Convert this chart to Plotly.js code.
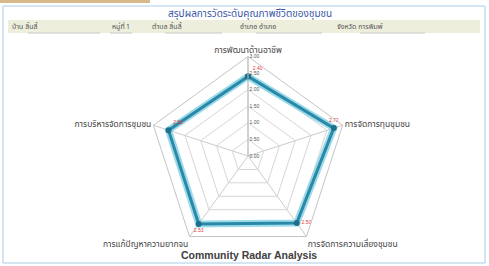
<!DOCTYPE html>
<html>
<head>
<meta charset="utf-8">
<script src="https://cdn.plot.ly/plotly-3.0.1.min.js"></script>
<style>html,body{margin:0;padding:0;background:#fff;}#chart{width:489px;height:266px;}</style>
</head>
<body>
<div id="chart"></div>
<script>
// ---- data ----
const categories = ["การพัฒนาด้านอาชีพ", "การจัดการทุนชุมชน", "การจัดการความเสี่ยงชุมชน", "การแก้ปัญหาความยากจน", "การบริหารจัดการชุมชน"];
const scores = [2.40, 2.72, 2.50, 2.53, 2.52];
const headerTitle = "สรุปผลการวัดระดับคุณภาพชีวิตของชุมชน";
const headerFields = ["บ้าน ลิ้นลี้", "หมู่ที่", "1", "ตำบล ลิ้นลี้", "อำเภอ อำเภอ", "จังหวัด การพิมพ์"];
const chartTitle = "Community Radar Analysis";
const radialTicks = [0, 0.5, 1, 1.5, 2, 2.5, 3];

const W = 489, H = 266;
const px = x => x / W, py = y => 1 - y / H;
const thaiFont = "Noto Sans Thai, Noto Sans, DejaVu Sans, sans-serif";

const thetaClosed = categories.concat([categories[0]]);
const rClosed = scores.concat([scores[0]]);
const labels = scores.map(v => v.toFixed(2)).concat([""]);

const traces = [
  { type: "scatterpolar", r: rClosed, theta: thetaClosed, mode: "lines",
    line: { color: "rgba(130,210,228,0.8)", width: 7 }, hoverinfo: "skip", showlegend: false },
  { type: "scatterpolar", r: rClosed, theta: thetaClosed, mode: "lines+markers+text",
    line: { color: "#2a88a8", width: 3 },
    marker: { color: "#1f6f8c", size: 6 },
    text: labels,
    textposition: ["top right", "top center", "middle right", "bottom center", "top right", "top center"],
    textfont: { color: "#e23a3a", size: 5, family: "Arial" },
    showlegend: false }
];

const fieldX = [10, 110, 124, 150, 238, 335];
const underlines = [[28, 100], [110, 132], [165, 222], [256, 322], [360, 425]];

const shapes = [
  { type: "rect", xref: "paper", yref: "paper", x0: px(0), x1: px(150), y0: py(0), y1: py(3),
    fillcolor: "#d8b98c", line: { width: 0 } },
  { type: "rect", xref: "paper", yref: "paper", x0: px(3), x1: px(485), y0: py(6), y1: py(263),
    fillcolor: "rgba(0,0,0,0)", line: { color: "#a9cde6", width: 1 } },
  { type: "rect", xref: "paper", yref: "paper", x0: px(8), x1: px(480), y0: py(20), y1: py(33),
    fillcolor: "#eeeedd", line: { width: 0 } }
].concat(underlines.map(u => ({ type: "line", xref: "paper", yref: "paper",
  x0: px(u[0]), x1: px(u[1]), y0: py(33), y1: py(33), line: { color: "#c8c8c8", width: 1 } })));

const annotations = [
  { text: headerTitle, xref: "paper", yref: "paper", x: px(250), y: py(14), showarrow: false,
    xanchor: "center", yanchor: "middle", font: { family: thaiFont, size: 10, color: "#3a56a8" } },
  { text: "<b>" + chartTitle + "</b>", xref: "paper", yref: "paper", x: px(249), y: py(255), showarrow: false,
    xanchor: "center", yanchor: "middle", font: { family: "Arial, Liberation Sans, sans-serif", size: 10.5, color: "#404040" } }
].concat(headerFields.map((t, i) => ({ text: t, xref: "paper", yref: "paper", x: px(fieldX[i]), y: py(27),
  showarrow: false, xanchor: "left", yanchor: "middle", font: { family: thaiFont, size: 7, color: "#555" } })));

const layout = {
  width: W, height: H,
  margin: { l: 0, r: 0, t: 0, b: 0 },
  paper_bgcolor: "#ffffff",
  showlegend: false,
  shapes: shapes,
  annotations: annotations,
  polar: {
    domain: { x: [px(148.5), px(347.5)], y: [py(255.5), py(56.5)] },
    bgcolor: "rgba(0,0,0,0)",
    gridshape: "linear",
    radialaxis: {
      range: [0, 3], tickvals: radialTicks, tickformat: ".2f", angle: 90, tickangle: 90,
      showline: true, linecolor: "#bdbdbd", linewidth: 1,
      gridcolor: "#d6d6d6", gridwidth: 1, ticks: "",
      tickfont: { size: 5, color: "#555", family: "Arial" }
    },
    angularaxis: {
      rotation: 90, direction: "clockwise",
      showline: true, linecolor: "#c4c4c4", linewidth: 1,
      gridcolor: "#cccccc", ticks: "",
      tickfont: { size: 8.5, color: "#444", family: thaiFont }
    }
  }
};

Plotly.newPlot("chart", traces, layout, { staticPlot: true, displayModeBar: false });
</script>
</body>
</html>
